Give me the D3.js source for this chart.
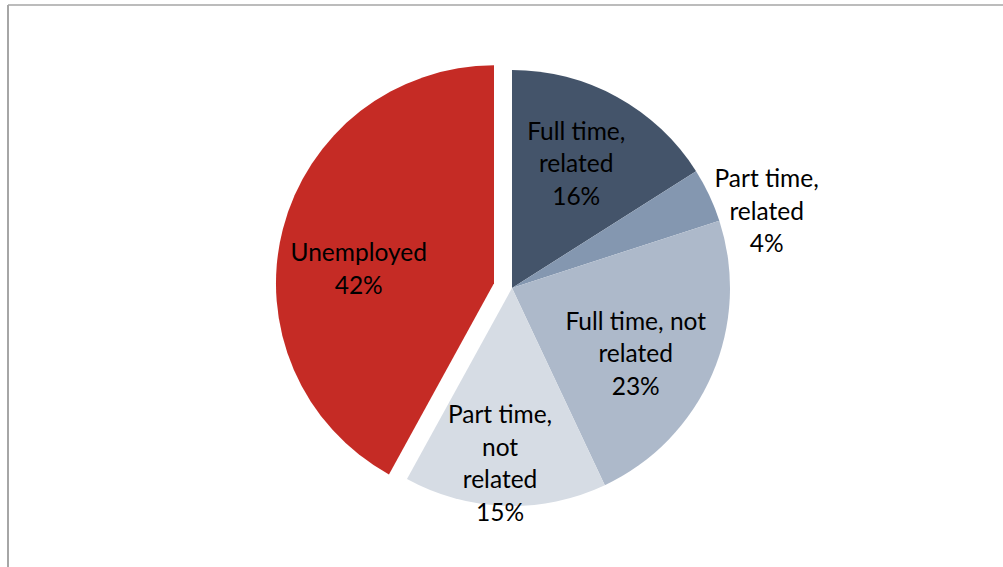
<!DOCTYPE html>
<html><head><meta charset="utf-8">
<script src="https://cdn.jsdelivr.net/npm/d3@7"></script>
<style>html,body{margin:0;padding:0;background:#fff;}</style>
</head><body>
<script>
const categories = ["Full time, related", "Part time, related", "Full time, not related", "Part time, not related", "Unemployed"];
const labelLines = [["Full time,", "related"], ["Part time,", "related"], ["Full time, not", "related"], ["Part time,", "not", "related"], ["Unemployed"]];
const values = [16, 4, 23, 15, 42];
const colors = ["#44546A", "#8497B0", "#ADB9CA", "#D6DCE4", "#C52B25"];

const W = 1003, H = 567;
const svg = d3.select("body").append("svg").attr("width", W).attr("height", H);

// frame
svg.append("line").attr("x1", 8).attr("y1", 5).attr("x2", W).attr("y2", 5).attr("stroke", "#A6A6A6").attr("stroke-width", 1.5);
svg.append("line").attr("x1", 8).attr("y1", 5).attr("x2", 8).attr("y2", H).attr("stroke", "#A6A6A6").attr("stroke-width", 2);

const cx = 512, cy = 288, R = 218;
const pie = d3.pie().sort(null).value(d => d)(values);
const arc = d3.arc().innerRadius(0).outerRadius(R);
const explode = [0, 0, 0, 0, 18.6];
const labelR = [140, 266, 140, 176, 136];
const labelShift = [-1.5, 8.4, 4.5, 2.1, -8.4]; // angular adjust, degrees

const g = svg.append("g").attr("transform", `translate(${cx},${cy})`);
pie.forEach((d, i) => {
  const mid = (d.startAngle + d.endAngle) / 2;
  const ox = Math.sin(mid) * explode[i], oy = -Math.cos(mid) * explode[i];
  const sg = g.append("g").attr("transform", `translate(${ox},${oy})`);
  sg.append("path").attr("d", arc(d)).attr("fill", colors[i]);
  const a = mid + labelShift[i] * Math.PI / 180;
  const lx = Math.sin(a) * labelR[i], ly = -Math.cos(a) * labelR[i];
  const lines = labelLines[i].concat([values[i] + "%"]);
  const lh = 32.5;
  const t = sg.append("text").attr("text-anchor", "middle")
    .attr("font-family", "Lato, 'Open Sans', sans-serif").attr("font-size", 24.5).attr("fill", "#000");
  lines.forEach((ln, k) => {
    t.append("tspan").attr("x", lx).attr("y", ly + (k - (lines.length - 1) / 2) * lh).attr("dy", "0.35em").text(ln);
  });
});
</script>
</body></html>
